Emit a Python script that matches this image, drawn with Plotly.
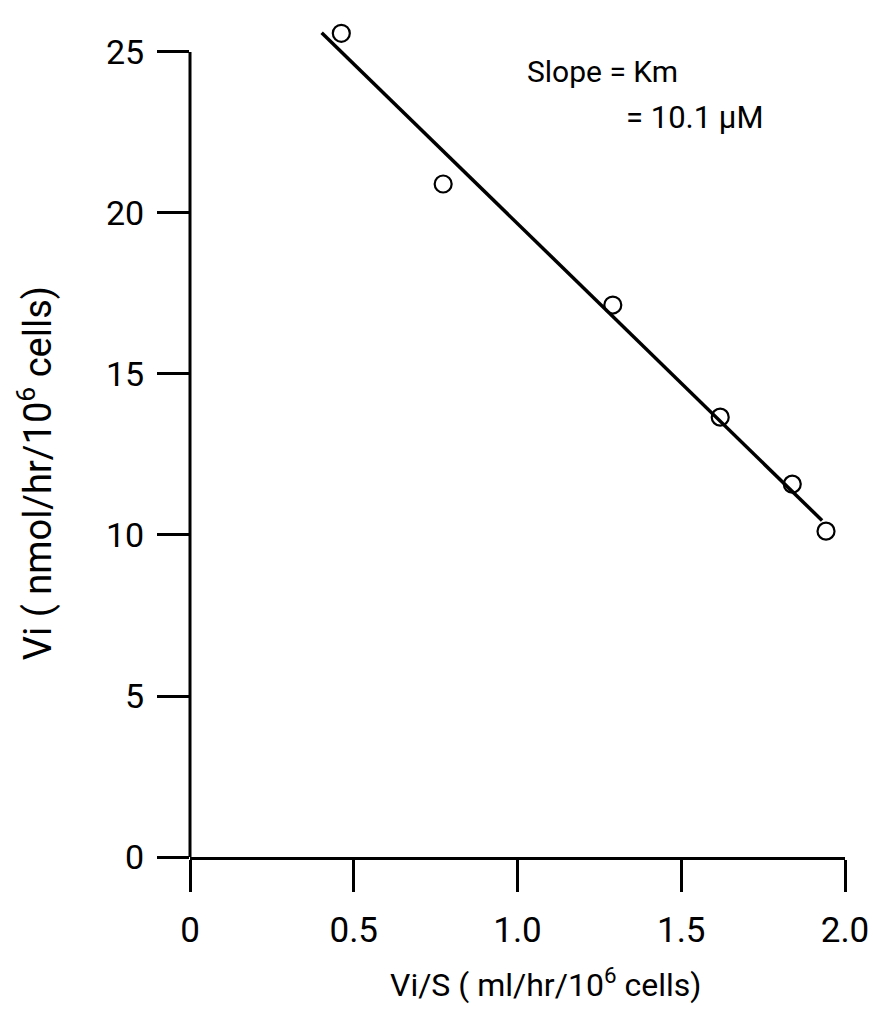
import plotly.graph_objects as go

# Data
vi_over_s = [0.462, 0.773, 1.291, 1.619, 1.839, 1.942]   # ml/hr/10^6 cells
vi = [25.58, 20.90, 17.14, 13.66, 11.58, 10.12]          # nmol/hr/10^6 cells

fit_x = [0.402, 1.930]
fit_y = [25.60, 10.45]

x_ticks = [0, 0.5, 1.0, 1.5, 2.0]
x_tick_labels = ["0", "0.5", "1.0", "1.5", "2.0"]
y_ticks = [0, 5, 10, 15, 20, 25]
y_tick_labels = ["0", "5", "10", "15", "20", "25"]

FONT = "Roboto, Liberation Sans, sans-serif"

fig = go.Figure()
fig.add_trace(go.Scatter(
    x=fit_x, y=fit_y, mode="lines",
    line=dict(color="black", width=3.5),
    showlegend=False, hoverinfo="skip",
))
fig.add_trace(go.Scatter(
    x=vi_over_s, y=vi, mode="markers",
    marker=dict(symbol="circle-open", size=17, color="black",
                line=dict(color="black", width=2.2)),
    cliponaxis=False, showlegend=False,
))

# y-axis line drawn from 0 to 25 only
fig.add_shape(type="line", xref="paper", yref="y", x0=0, x1=0, y0=0, y1=y_ticks[-1],
              line=dict(color="black", width=3), layer="above")

fig.update_layout(
    width=873, height=1015,
    margin=dict(l=190, r=25, t=4, b=158),
    paper_bgcolor="white", plot_bgcolor="white",
    font=dict(family=FONT, color="black"),
    xaxis=dict(
        range=[0, 2.0], tickvals=x_ticks, ticktext=x_tick_labels,
        showgrid=False, zeroline=False, showline=True, linecolor="black", linewidth=3,
        ticks="outside", ticklen=32, tickwidth=3, tickcolor="black",
        tickfont=dict(size=35, family=FONT), ticklabelstandoff=8,
        ticklabeloverflow="allow",
    ),
    yaxis=dict(
        range=[0, 26.49], tickvals=y_ticks, ticktext=y_tick_labels,
        showgrid=False, zeroline=False, showline=False,
        ticks="outside", ticklen=32, tickwidth=3, tickcolor="black",
        tickfont=dict(size=34, family=FONT), ticklabelstandoff=6,
        ticklabeloverflow="allow",
    ),
    annotations=[
        dict(text="Vi/S ( ml/hr/10<sup>6</sup> cells)", xref="paper", yref="paper",
             x=0.5426, y=0, yshift=-126, xanchor="center", yanchor="middle",
             showarrow=False, font=dict(size=32, family=FONT)),
        dict(text="Vi ( nmol/hr/10<sup>6</sup> cells)", xref="paper", yref="paper",
             x=0, y=0.45, xshift=-155, xanchor="center", yanchor="middle",
             textangle=-90, showarrow=False, font=dict(size=38, family=FONT)),
        dict(text="Slope = Km", xref="x", yref="y", x=1.023, y=24.38,
             xanchor="left", yanchor="middle", showarrow=False,
             font=dict(size=30, family=FONT)),
        dict(text="= 10.1 µM", xref="x", yref="y", x=1.324, y=22.98,
             xanchor="left", yanchor="middle", showarrow=False,
             font=dict(size=31, family=FONT)),
    ],
)

fig.write_html("out.html")
